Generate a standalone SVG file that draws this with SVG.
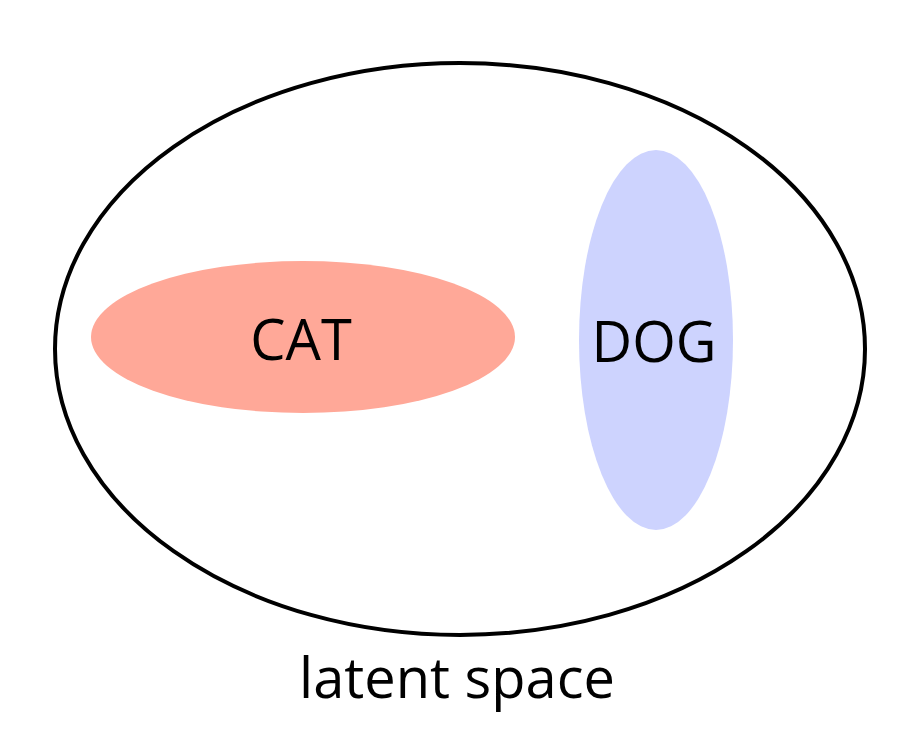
<svg xmlns="http://www.w3.org/2000/svg" width="900" height="750" viewBox="0 0 900 750">
<style>
text{font-family:"Open Sans","Liberation Sans",sans-serif;font-size:56px;fill:#000;text-anchor:middle}
</style>
<rect width="900" height="750" fill="#fff"/>
<g id="space"><ellipse cx="460" cy="349" rx="405" ry="286" fill="none" stroke="#000" stroke-width="4"/></g>
<g id="cat"><ellipse cx="303" cy="337" rx="212" ry="76" fill="#FFA898"/><text x="301" y="360">CAT</text></g>
<g id="dog"><ellipse cx="656" cy="340" rx="77" ry="190" fill="#CDD3FE"/><text x="654" y="362">DOG</text></g>
<g id="connectors"/>
<text x="457" y="698">latent space</text>
</svg>
